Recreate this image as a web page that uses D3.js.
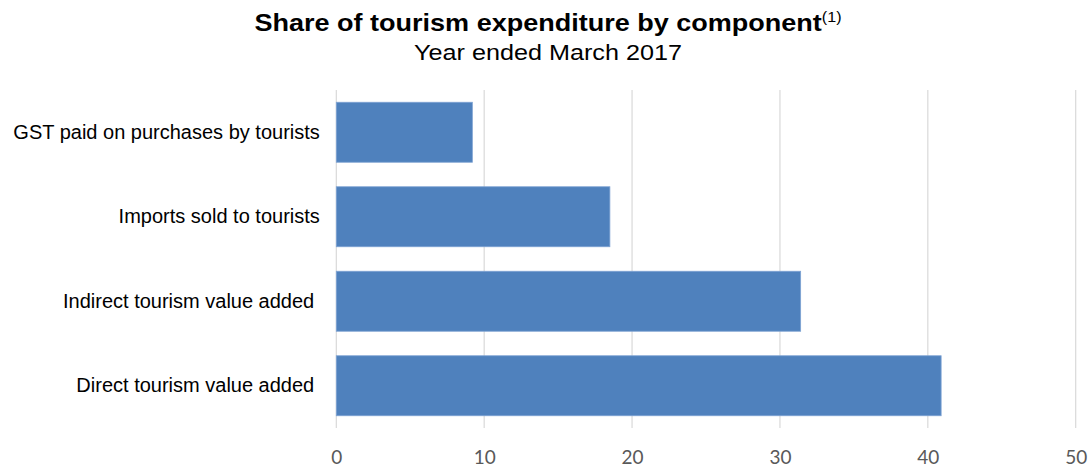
<!DOCTYPE html>
<html>
<head>
<meta charset="utf-8">
<script src="https://cdn.jsdelivr.net/npm/d3@7"></script>
<style>
  html, body { margin: 0; padding: 0; background: #fff; }
  svg { display: block; }
  .cat text { white-space: pre; }
</style>
</head>
<body>
<svg id="chart" width="1092" height="470"></svg>
<script>
// Tourism expenditure components, year ended March 2017 (percent share)
const categories = [
  "GST paid on purchases by tourists",
  "Imports sold to tourists",
  "Indirect tourism value added ",
  "Direct tourism value added "
];
const shares = [9.2, 18.5, 31.4, 40.9];
const xTicks = [0, 10, 20, 30, 40, 50];

const data = categories.map((c, i) => ({ category: c, value: shares[i] }));

const svg = d3.select("#chart");
const margin = { left: 336.3, right: 16.3, top: 90, bottom: 42 };
const W = 1092, H = 470;

const x = d3.scaleLinear().domain([0, 50]).range([margin.left, W - margin.right]);
const y = d3.scaleBand().domain(categories).range([margin.top, H - margin.bottom])
  .paddingInner(0.29).paddingOuter(0.145);

// Title block (slightly widened lettering)
const title = svg.append("text")
  .attr("transform", "translate(548,30.5) scale(1.15,1)")
  .attr("text-anchor", "middle")
  .attr("font-family", "Liberation Sans, Arial, sans-serif")
  .attr("font-size", 23.5).attr("font-weight", "bold").attr("fill", "#000");
title.append("tspan").text("Share of tourism expenditure by component");
title.append("tspan").attr("font-size", 14).attr("font-weight", "normal")
  .attr("dy", -9).text("(1)");

svg.append("text")
  .attr("transform", "translate(548,60) scale(1.12,1)")
  .attr("text-anchor", "middle")
  .attr("font-family", "Liberation Sans, Arial, sans-serif")
  .attr("font-size", 22.5).attr("fill", "#000")
  .text("Year ended March 2017");

// Vertical gridlines
svg.append("g").selectAll("line").data(xTicks).join("line")
  .attr("x1", d => x(d)).attr("x2", d => x(d))
  .attr("y1", margin.top).attr("y2", H - margin.bottom)
  .attr("stroke", "#d9d9d9").attr("stroke-width", 1.2);

// Bars
svg.append("g").selectAll("rect").data(data).join("rect")
  .attr("x", x(0))
  .attr("y", d => y(d.category))
  .attr("width", d => x(d.value) - x(0))
  .attr("height", y.bandwidth())
  .attr("fill", "#4f81bd")
  .attr("stroke", "#7ea3d3").attr("stroke-width", 0.8);

// X axis labels
const xAxis = d3.axisBottom(x).tickValues(xTicks).tickSize(0).tickPadding(0);
const gx = svg.append("g").attr("transform", `translate(0, ${H - 20})`).call(xAxis);
gx.select(".domain").remove();
gx.selectAll("text")
  .attr("font-family", "Lato, Carlito, sans-serif")
  .attr("font-size", 19).attr("fill", "#595959");

// Category labels
const yAxis = d3.axisLeft(y).tickSize(0).tickPadding(0);
const gy = svg.append("g").attr("class", "cat")
  .attr("transform", `translate(${margin.left - 16.5}, 0)`).call(yAxis);
gy.select(".domain").remove();
gy.selectAll("text")
  .attr("font-family", "Liberation Sans, Arial, sans-serif")
  .attr("font-size", 20).attr("fill", "#000");
</script>
</body>
</html>
